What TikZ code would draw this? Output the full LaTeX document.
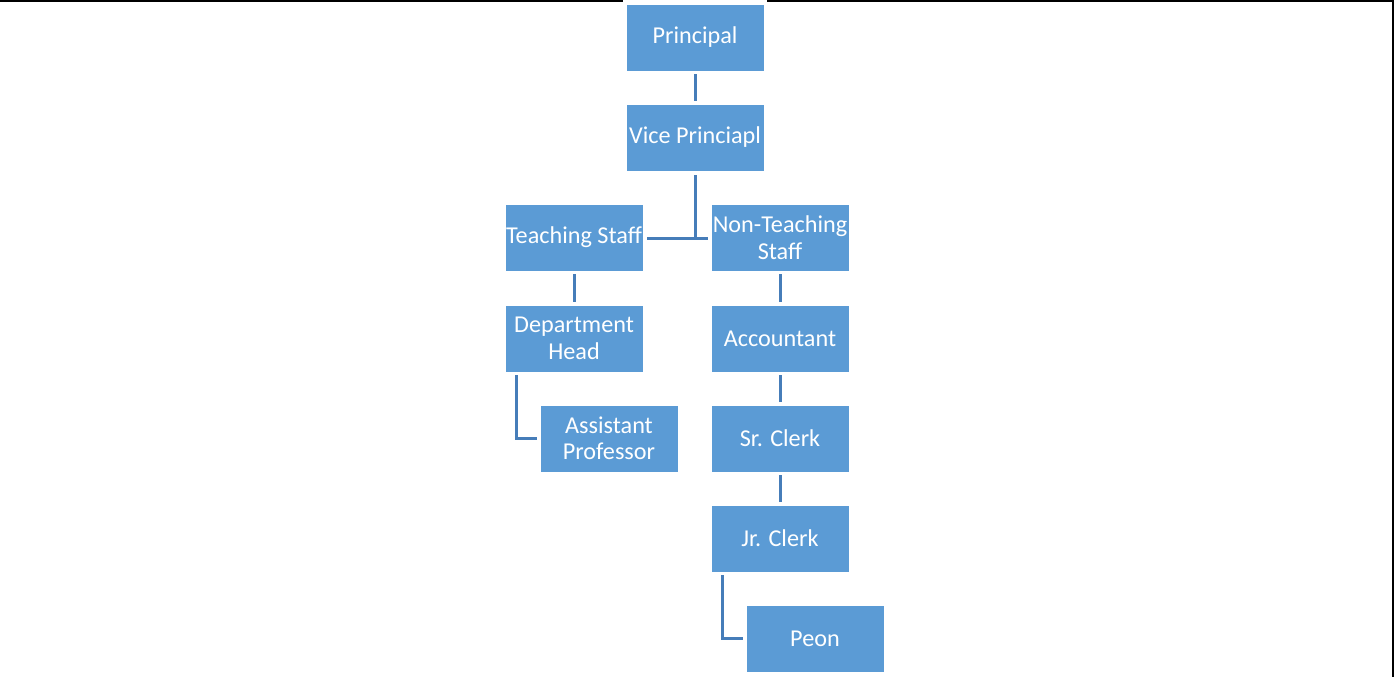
\documentclass[tikz,border=0pt]{standalone}
\usepackage{fontspec}
\setmainfont{Carlito}
\definecolor{boxfill}{RGB}{91,155,213}
\definecolor{linecol}{RGB}{70,125,185}
\begin{document}
\begin{tikzpicture}[x=1pt,y=-1pt,
  box/.style={rectangle, fill=boxfill, draw=white, line width=0.8pt, minimum width=138pt, minimum height=67pt, inner sep=0pt, text=white, align=center, font=\fontsize{24.2}{26.5}\selectfont},
  conn/.style={draw=linecol, line width=3pt},
  frame/.style={draw=black, line width=2pt}]
\useasboundingbox (0,0) rectangle (1397,677);
% frame
\draw[frame] (0,1.5) -- (623,1.5);
\draw[frame] (767,1.5) -- (1393.5,1.5);
\draw[frame] (1392.5,0.5) -- (1392.5,677);
% nodes
\node[box] (p)   at (695,37.5)  {Principal};
\node[box] (vp)  at (695,137.5) {Vice Princiapl};
\node[box] (ts)  at (574,237.5) {Teaching Staff};
\node[box] (nts) at (780,237.5) {Non-Teaching\\Staff};
\node[box] (dh)  at (574,338.5) {Department\\Head};
\node[box] (acc) at (780,338.5) {Accountant};
\node[box] (ap)  at (609,438.5) {Assistant\\Professor};
\node[box] (sc)  at (780,438.5) {Sr. Clerk};
\node[box] (jc)  at (780,538.5) {Jr. Clerk};
\node[box] (pe)  at (815,638.5) {Peon};
% connectors
\draw[conn, shorten <=3pt, shorten >=3pt] (p.south) -- (vp.north);
\coordinate (j) at (695,238);
\draw[conn, shorten <=4pt] (vp.south) -- (j);
\draw[conn, shorten <=4pt, shorten >=3pt] (ts.east |- j) -- (nts.west |- j);
\draw[conn, shorten <=3pt, shorten >=3pt] (ts.south) -- (dh.north);
\draw[conn, shorten <=3pt, shorten >=3pt] (nts.south) -- (acc.north);
\draw[conn, shorten <=3pt, shorten >=3pt] (acc.south) -- (sc.north);
\draw[conn, shorten <=3pt, shorten >=3pt] (sc.south) -- (jc.north);
\draw[conn] ([xshift=12pt,yshift=-3pt]dh.south west) |- ([xshift=-3pt]ap.west);
\draw[conn] ([xshift=12pt,yshift=-3pt]jc.south west) |- ([xshift=-3pt]pe.west);
\end{tikzpicture}
\end{document}
